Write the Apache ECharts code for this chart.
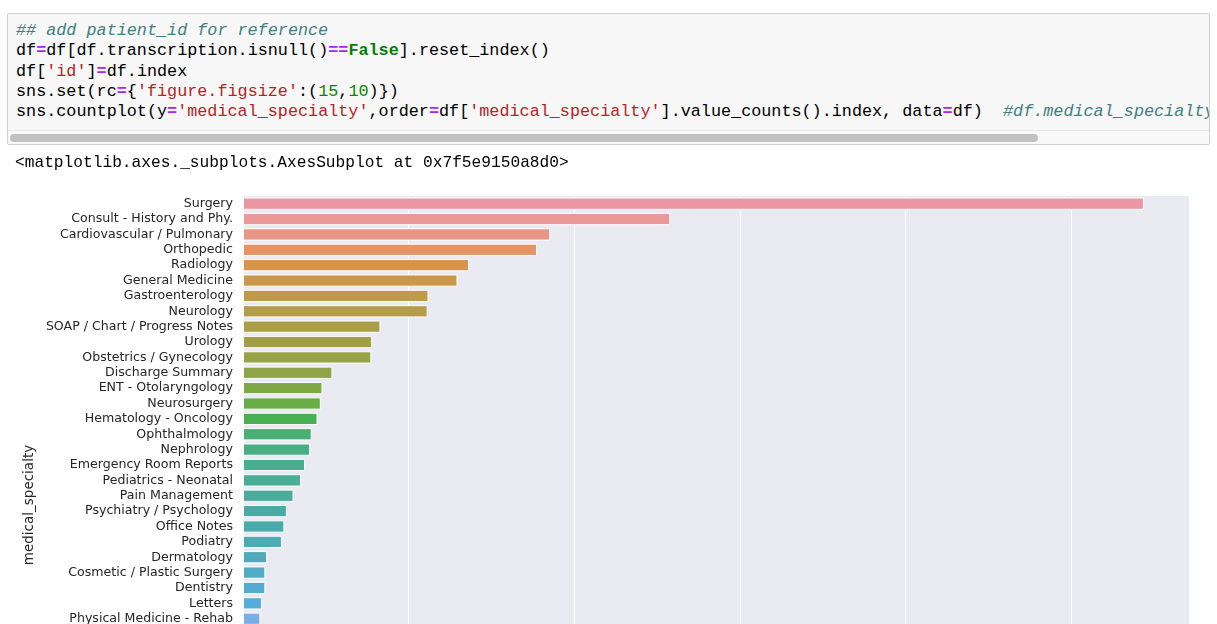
<!DOCTYPE html>
<html>
<head>
<meta charset="utf-8">
<script src="https://cdn.jsdelivr.net/npm/echarts/dist/echarts.min.js"></script>
<style>
  html, body { margin: 0; padding: 0; width: 1217px; height: 624px; overflow: hidden; background: #fff; }
  #cell { position: absolute; left: 7px; top: 13px; width: 1201px; height: 130px; background: #f7f7f7;
          border: 1px solid #cfcfcf; border-radius: 2px; overflow: hidden; }
  #code { position: absolute; left: 8px; top: 7px; margin: 0; white-space: pre;
          font-family: "Liberation Mono", "DejaVu Sans Mono", monospace; font-size: 16.8px; line-height: 20.3px; color: #000; }
  .cm { color: #408080; font-style: italic; }
  .op { color: #AA22FF; font-weight: bold; }
  .kw { color: #008000; font-weight: bold; }
  .st { color: #BA2121; }
  .nu { color: #008800; }
  #track { position: absolute; left: 0; top: 116px; width: 100%; height: 14px; background: #f9f9f9; border-top: 1px solid #e6e6e6; }
  #thumb { position: absolute; left: 2px; top: 3px; width: 1028px; height: 8px; border-radius: 4px; background: #c1c1c1; }
  #out { position: absolute; left: 15px; top: 153px; margin: 0; white-space: pre;
         font-family: "Liberation Mono", "DejaVu Sans Mono", monospace; font-size: 16.2px; line-height: 20px; color: #000; }
  #chart { position: absolute; left: 0; top: 0; width: 1217px; height: 720px; }
</style>
</head>
<body>
<div id="chart"></div>
<div id="cell">
<pre id="code"><span class="cm">## add patient_id for reference</span>
df<span class="op">=</span>df[df.transcription.isnull()<span class="op">==</span><span class="kw">False</span>].reset_index()
df[<span class="st">'id'</span>]<span class="op">=</span>df.index
sns.set(rc<span class="op">=</span>{<span class="st">'figure.figsize'</span>:(<span class="nu">15</span>,<span class="nu">10</span>)})
sns.countplot(y<span class="op">=</span><span class="st">'medical_specialty'</span>,order<span class="op">=</span>df[<span class="st">'medical_specialty'</span>].value_counts().index, data<span class="op">=</span>df)  <span class="cm">#df.medical_specialty.value_counts()</span></pre>
<div id="track"><div id="thumb"></div></div>
</div>
<pre id="out">&lt;matplotlib.axes._subplots.AxesSubplot at 0x7f5e9150a8d0&gt;</pre>
<script>
// ---- data ----
const categories = [
  "Surgery", "Consult - History and Phy.", "Cardiovascular / Pulmonary", "Orthopedic",
  "Radiology", "General Medicine", "Gastroenterology", "Neurology",
  "SOAP / Chart / Progress Notes", "Urology", "Obstetrics / Gynecology", "Discharge Summary",
  "ENT - Otolaryngology", "Neurosurgery", "Hematology - Oncology", "Ophthalmology",
  "Nephrology", "Emergency Room Reports", "Pediatrics - Neonatal", "Pain Management",
  "Psychiatry / Psychology", "Office Notes", "Podiatry", "Dermatology",
  "Cosmetic / Plastic Surgery", "Dentistry", "Letters", "Physical Medicine - Rehab"
];
const counts = [
  1088, 516, 371, 355,
  273, 259, 224, 223,
  166, 156, 155, 108,
  96, 94, 90, 83,
  81, 75, 70, 61,
  53, 50, 47, 29,
  27, 27, 23, 21
];
const xTicks = [0, 200, 400, 600, 800, 1000];
const axisName = "medical_specialty";

// ---- seaborn husl palette (40 levels, l=.7) desaturated to .75 ----
const PALETTE_N = 40;
const M = [[3.2406,-1.5372,-0.4986],[-0.9689,1.8758,0.0415],[0.0557,-0.2040,1.0570]];
const refY = 1.0, refU = 0.19784, refV = 0.46834, labE = 0.008856, labK = 903.3;
function maxChroma(L, H) {
  const hr = H / 360 * 2 * Math.PI, sh = Math.sin(hr), ch = Math.cos(hr);
  const sub1 = Math.pow(L + 16, 3) / 1560896;
  const sub2 = sub1 > labE ? sub1 : L / labK;
  let res = Infinity;
  for (const [m1, m2, m3] of M) {
    const top = (0.99915 * m1 + 1.05122 * m2 + 1.14460 * m3) * sub2;
    const rb = 0.86330 * m3 - 0.17266 * m2, lb = 0.12949 * m3 - 0.38848 * m1;
    const bottom = (rb * sh + lb * ch) * sub2;
    for (const t of [0, 1]) {
      const C = L * (top - 1.05122 * t) / (bottom + 0.17266 * sh * t);
      if (C > 0 && C < res) res = C;
    }
  }
  return res;
}
function huslToRgb(H, S, L) {
  const C = maxChroma(L, H) / 100 * S;
  const hr = H * Math.PI / 180;
  const U = C * Math.cos(hr), V = C * Math.sin(hr);
  const varY = L > 8 ? refY * Math.pow((L + 16) / 116, 3) : refY * L / labK;
  const varU = U / (13 * L) + refU, varV = V / (13 * L) + refV;
  const Y = varY * refY;
  const X = 0 - (9 * Y * varU) / ((varU - 4) * varV - varU * varV);
  const Z = (9 * Y - 15 * varV * Y - varV * X) / (3 * varV);
  return M.map(r => {
    const c = r[0] * X + r[1] * Y + r[2] * Z;
    const v = c <= 0.0031308 ? 12.92 * c : 1.055 * Math.pow(c, 1 / 2.4) - 0.055;
    return Math.min(1, Math.max(0, v));
  });
}
function mod1(x) { return ((x % 1) + 1) % 1; }
function rgbToHls(r, g, b) {
  const maxc = Math.max(r, g, b), minc = Math.min(r, g, b);
  const l = (minc + maxc) / 2;
  if (minc === maxc) return [0, l, 0];
  const s = l <= 0.5 ? (maxc - minc) / (maxc + minc) : (maxc - minc) / (2 - maxc - minc);
  const rc = (maxc - r) / (maxc - minc), gc = (maxc - g) / (maxc - minc), bc = (maxc - b) / (maxc - minc);
  let h;
  if (r === maxc) h = bc - gc; else if (g === maxc) h = 2 + rc - bc; else h = 4 + gc - rc;
  return [mod1(h / 6), l, s];
}
function vv(m1, m2, hue) {
  hue = mod1(hue);
  if (hue < 1 / 6) return m1 + (m2 - m1) * hue * 6;
  if (hue < 0.5) return m2;
  if (hue < 2 / 3) return m1 + (m2 - m1) * (2 / 3 - hue) * 6;
  return m1;
}
function hlsToRgb(h, l, s) {
  if (s === 0) return [l, l, l];
  const m2 = l <= 0.5 ? l * (1 + s) : l + s - l * s;
  const m1 = 2 * l - m2;
  return [vv(m1, m2, h + 1 / 3), vv(m1, m2, h), vv(m1, m2, h - 1 / 3)];
}
function toHex(rgb) {
  return '#' + rgb.map(c => Math.round(c * 255).toString(16).padStart(2, '0')).join('');
}
const palette = [];
for (let i = 0; i < PALETTE_N; i++) {
  const hue = mod1(i / PALETTE_N + 0.01) * 359;
  const rgb = huslToRgb(hue, 0.9 * 99, 0.7 * 99);
  const [h, l, s] = rgbToHls(...rgb);
  palette.push(toHex(hlsToRgb(h, l, s * 0.75)));
}

const chart = echarts.init(document.getElementById('chart'), null, { renderer: 'canvas' });
const maxVal = Math.max(...counts) * 1.05;
chart.setOption({
  animation: false,
  backgroundColor: 'transparent',
  grid: {
    left: 243, top: 196, width: 946, height: 430.4,
    show: true, backgroundColor: '#eaeaf2', borderWidth: 0, containLabel: false
  },
  xAxis: {
    type: 'value', min: 0, max: maxVal, interval: 200,
    axisLine: { show: false }, axisTick: { show: false },
    axisLabel: {
      color: '#262626', fontSize: 12.6, fontFamily: 'DejaVu Sans', margin: 10,
      formatter: v => (xTicks.indexOf(v) >= 0 ? String(v) : '')
    },
    splitLine: { show: true, lineStyle: { color: '#ffffff', width: 1 } }
  },
  yAxis: {
    type: 'category', inverse: true, data: categories,
    axisLine: { show: false }, axisTick: { show: false }, splitLine: { show: false },
    axisLabel: { color: '#262626', fontSize: 12.6, fontFamily: 'DejaVu Sans', margin: 10, interval: 0 }
  },
  graphic: [{
    type: 'text', x: 29, y: 505, rotation: Math.PI / 2,
    style: { text: axisName, fill: '#262626', font: '13.5px "DejaVu Sans"', textAlign: 'center', textVerticalAlign: 'middle' }
  }],
  series: [{
    type: 'bar', barCategoryGap: '20%',
    data: counts.map((v, i) => ({ value: v, itemStyle: { color: palette[i] } })),
    itemStyle: { borderColor: '#ffffff', borderWidth: 1 }
  }]
});
</script>
</body>
</html>
